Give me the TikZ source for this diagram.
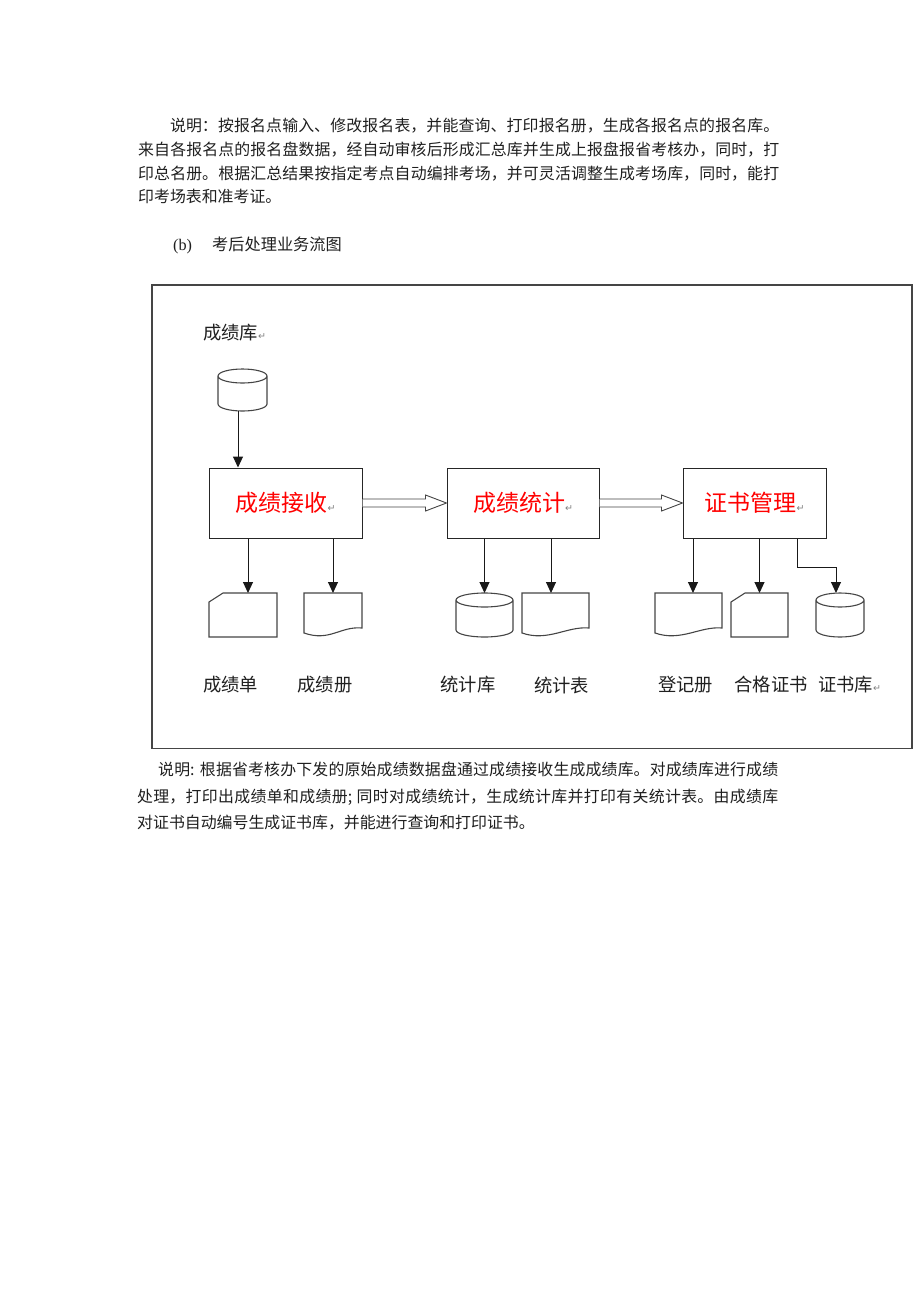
\documentclass[tikz,border=0pt]{standalone}
\usepackage{fontspec}
\setmainfont{Noto Sans CJK SC}
\newfontfamily\arrowfont{DejaVu Sans}
\newfontfamily\latinserif{Liberation Serif}
\usetikzlibrary{arrows.meta,calc}
\XeTeXlinebreaklocale "zh"
\XeTeXlinebreakskip=0pt plus 1pt
\definecolor{linegray}{rgb}{0.27,0.27,0.27}
\definecolor{inkred}{rgb}{1,0,0}
\definecolor{textgray}{rgb}{0.12,0.12,0.12}
\newcommand{\pmark}{{\arrowfont\fontsize{9.5}{9.5}\selectfont\textcolor{gray}{↵}}}
\newcommand{\dbdrum}[1]{%
  \draw[symline] let \p1=(#1.north west), \p2=(#1.north east), \n1={(\x2-\x1)/2} in
    ($(#1.north)+(0,7)$) ellipse [x radius=\n1, y radius=7pt]
    ($(#1.north west)+(0,7)$) -- ($(#1.south west)+(0,-7)$)
    arc [start angle=180, end angle=360, x radius=\n1, y radius=7pt]
    -- ($(#1.north east)+(0,7)$);}
\newcommand{\cardshape}[1]{%
  \draw[symline] ($(#1.north west)+(0,9)$) -- ($(#1.north west)+(14,0)$) -- (#1.north east)
    -- (#1.south east) -- (#1.south west) -- cycle;}
\newcommand{\docshape}[1]{%
  \draw[symline] (#1.north west) -- (#1.north east) -- ($(#1.south east)+(0,-9)$)
    .. controls ($(#1.south east)+(-22,-11)$) and ($(#1.south west)+(26,5)$) .. ($(#1.south west)+(0,-4)$)
    -- cycle;}

\begin{document}
\begin{tikzpicture}[x=1pt, y=-1pt,
        procbox/.style={draw=black!85, line width=1pt, minimum width=#1, minimum height=70pt, inner sep=0pt, text=inkred, font=\fontsize{23}{23}\selectfont},
        slot/.style={minimum width=#1, minimum height=44pt, inner sep=0pt, outer sep=0pt},
        symline/.style={draw=linegray, line width=1.1pt, line join=miter},
        arr/.style={draw=black!90, line width=1pt, -{Triangle[length=11pt, width=10pt]}},
        hollow/.style={draw=linegray, line width=0.9pt, fill=white, line join=miter},
        lbl/.style={inner sep=0pt, text=textgray, font=\fontsize{18.3}{18.3}\selectfont},
        para/.style={inner sep=0pt, anchor=north west, text width=641pt, align=justify, text=textgray}]
        \useasboundingbox (0, 0) rectangle (920, 1302);
        \draw (138, 118) node(intro)[para, font=\fontsize{15.9}{23.7}\selectfont]{\hspace*{2em}说明：按报名点输入、修改报名表，并能查询、打印报名册，生成各报名点的报名库。\linebreak 来自各报名点的报名盘数据，经自动审核后形成汇总库并生成上报盘报省考核办，同时，打\linebreak 印总名册。根据汇总结果按指定考点自动编排考场，并可灵活调整生成考场库，同时，能打\linebreak 印考场表和准考证。};
        \draw (173, 245) node(title)[anchor=west, inner sep=0pt, text=textgray, font=\fontsize{16.2}{16.2}\selectfont]{\makebox[39pt][l]{\latinserif (b)}考后处理业务流图};
        \draw[draw=linegray, line width=1.5pt] (152, 285) rectangle (912, 748.5);
        \draw (203, 333) node(dblbl)[lbl, anchor=west]{成绩库\pmark};
        \draw (242.5, 390) node(scoredb)[slot=49pt, minimum height=42pt]{};
        \dbdrum{scoredb}
        \draw (285.5, 503) node(recv)[procbox=153pt]{成绩接收\pmark};
        \draw (523, 503) node(stat)[procbox=152pt]{成绩统计\pmark};
        \draw (754.5, 503) node(cert)[procbox=143pt]{证书管理\pmark};
        \draw[arr] ($(scoredb.south)+(-4.5,0)$) -- ($(scoredb.south |- recv.north)+(-4.5,0)$);
        \draw[hollow] ($(recv.east)+(0,-4)$) -- ($(stat.west)+(-21,-4)$) -- ($(stat.west)+(-21,-8)$) -- (stat.west) -- ($(stat.west)+(-21,8)$) -- ($(stat.west)+(-21,4)$) -- ($(recv.east)+(0,4)$);
        \draw[hollow] ($(stat.east)+(0,-4)$) -- ($(cert.west)+(-21,-4)$) -- ($(cert.west)+(-21,-8)$) -- (cert.west) -- ($(cert.west)+(-21,8)$) -- ($(cert.west)+(-21,4)$) -- ($(stat.east)+(0,4)$);
        \draw (243, 615) node(sheet)[slot=68pt]{};
        \draw (333, 615) node(book)[slot=58pt]{};
        \draw (484.5, 615) node(statdb)[slot=57pt]{};
        \draw (555.5, 615) node(stattab)[slot=67pt]{};
        \draw (688.5, 615) node(regbook)[slot=67pt]{};
        \draw (759.5, 615) node(certcard)[slot=57pt]{};
        \draw (840, 615) node(certdb)[slot=48pt]{};
        \cardshape{sheet}
        \docshape{book}
        \dbdrum{statdb}
        \docshape{stattab}
        \docshape{regbook}
        \cardshape{certcard}
        \dbdrum{certdb}
        \draw[arr] ($(sheet.north |- recv.south)+(5,0)$) -- ($(sheet.north)+(5,0)$);
        \draw[arr] (book.north |- recv.south) -- (book.north);
        \draw[arr] (statdb.north |- stat.south) -- (statdb.north);
        \draw[arr] ($(stattab.north |- stat.south)+(-4.5,0)$) -- ($(stattab.north)+(-4.5,0)$);
        \draw[arr] ($(regbook.north |- cert.south)+(4.5,0)$) -- ($(regbook.north)+(4.5,0)$);
        \draw[arr] (certcard.north |- cert.south) -- (certcard.north);
        \draw[arr] ($(cert.south)+(42.5,0)$) |- ($(certdb.north)+(-4,-26)$) -- ($(certdb.north)+(-4,0)$);
        \draw (230.5, 685) node(sheetlbl)[lbl]{成绩单};
        \draw (325, 685) node(booklbl)[lbl]{成绩册};
        \draw (468, 685) node(statdblbl)[lbl]{统计库};
        \draw (561.5, 685) node(stattablbl)[lbl]{统计表};
        \draw (685.5, 685) node(regbooklbl)[lbl]{登记册};
        \draw (771, 685) node(certcardlbl)[lbl]{合格证书};
        \draw (818, 685) node(certdblbl)[lbl, anchor=west]{证书库\pmark};
        \draw (137, 762) node(notes)[para, font=\fontsize{15.9}{26.5}\selectfont]{\hspace*{21pt}说明: 根据省考核办下发的原始成绩数据盘通过成绩接收生成成绩库。对成绩库进行成绩\linebreak 处理，打印出成绩单和成绩册; 同时对成绩统计，生成统计库并打印有关统计表。由成绩库\linebreak 对证书自动编号生成证书库，并能进行查询和打印证书。};
\end{tikzpicture}
\end{document}
